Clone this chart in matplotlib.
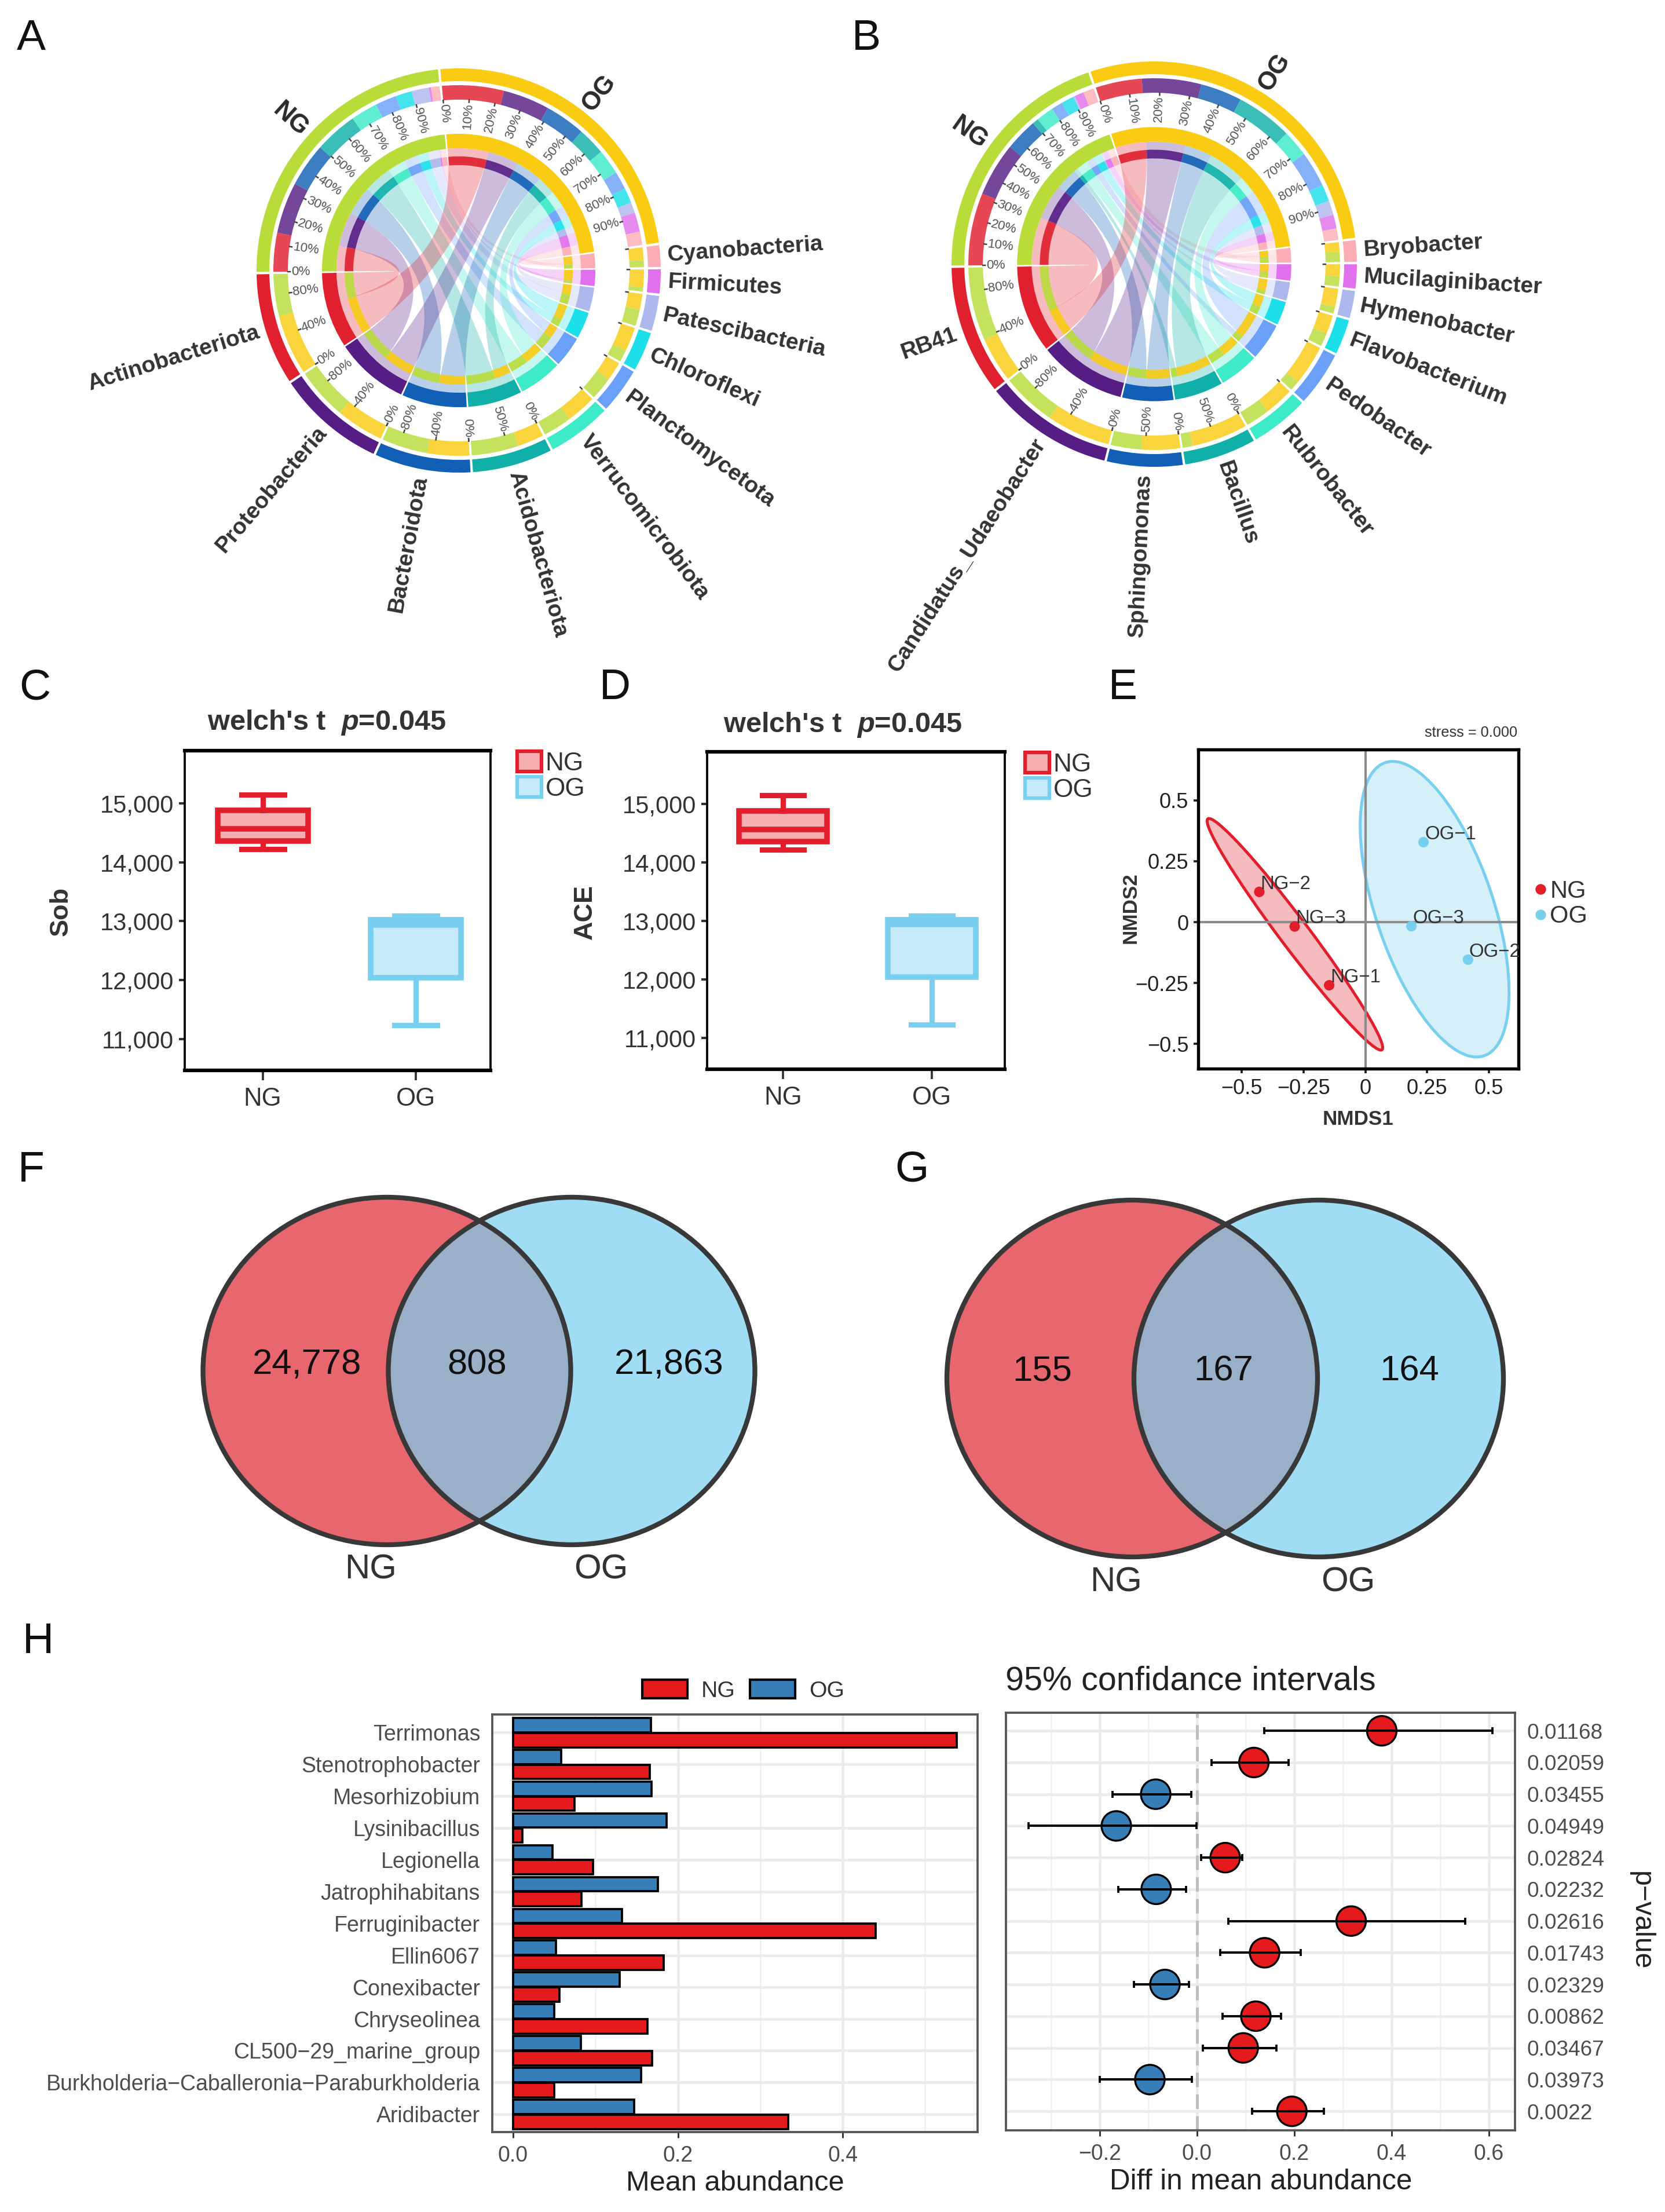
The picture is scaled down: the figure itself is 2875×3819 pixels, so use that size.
import numpy as np
import matplotlib
matplotlib.use("Agg")
import matplotlib.pyplot as plt
from matplotlib.patches import Wedge, Ellipse, Patch, PathPatch
from matplotlib.path import Path
from matplotlib.lines import Line2D

plt.rcParams['font.family'] = ['Liberation Sans', 'DejaVu Sans']
plt.rcParams['mathtext.fontset'] = 'custom'
plt.rcParams['mathtext.rm'] = 'Liberation Sans:bold'
plt.rcParams['mathtext.bfit'] = 'Liberation Sans:italic:bold'

W, H = 2875, 3819
RED, BLUE = '#E21E2C', '#78CFEE'
GREEN, YELLOW = '#B9DC3A', '#F9CB12'

# clockwise order, same for both chord panels
taxon_colors = ['#FBAEB5', '#E070EC', '#ADB8EC', '#1CDFEA', '#6AA0F8',
                '#3DEBC8', '#10B0A8', '#1260B5', '#561E85', '#E0202E']

# panel A, all spans in degrees of the circle
a_taxa = ['Cyanobacteria', 'Firmicutes', 'Patescibacteria', 'Chloroflexi', 'Planctomycetota',
          'Verrucomicrobiota', 'Acidobacteriota', 'Bacteroidota', 'Proteobacteria', 'Actinobacteriota']
a_spans = [6.2, 6.9, 10.1, 11.3, 13.1, 18.4, 23.0, 27.6, 31.2, 32.1]
a_og_frac = [0.65, 0.81, 0.49, 0.67, 0.45, 0.51, 0.36, 0.48, 0.48, 0.59]
a_ng = [2.7, 0.7, 5.4, 5.1, 6.7, 8.4, 13.5, 13.7, 16.1, 12.2]
a_og = [4.2, 6.1, 3.3, 4.7, 5.7, 7.9, 8.7, 12.7, 14.6, 19.4]
a_labels = [[], [], [], [], [], [], [0, 50], [0, 40, 80], [0, 40, 80], [0, 40, 80]]

# panel B
b_taxa = ['Bryobacter', 'Mucilaginibacter', 'Hymenobacter', 'Flavobacterium', 'Pedobacter',
          'Rubrobacter', 'Bacillus', 'Sphingomonas', 'Candidatus_Udaeobacter', 'RB41']
b_spans = [6.2, 6.9, 7.8, 10.0, 15.7, 16.7, 20.6, 21.7, 37.0, 37.0]
b_og_frac = [0.48, 0.55, 0.73, 0.58, 0.80, 0.55, 0.85, 0.56, 0.54, 0.38]
b_ng = [3.4, 2.9, 0.5, 4.0, 3.5, 5.5, 1.9, 10.2, 16.8, 22.7]
b_og = [3.6, 4.3, 4.5, 5.3, 11.1, 8.3, 17.7, 12.9, 18.6, 14.5]
b_labels = [[], [], [], [], [], [], [0, 50], [0, 50], [0, 40, 80], [0, 40, 80]]

# panels C, D
box_groups = ['NG', 'OG']
ng_box = dict(whislo=14220, q1=14360, med=14570, q3=14885, whishi=15150, fliers=[])
og_box = dict(whislo=11230, q1=12045, med=12940, q3=13025, whishi=13090, fliers=[])
box_ticks = [11000, 12000, 13000, 14000, 15000]

# panel E
nmds_names = ['NG\u22121', 'NG\u22122', 'NG\u22123', 'OG\u22121', 'OG\u22122', 'OG\u22123']
nmds1 = [-0.1465, -0.429, -0.286, 0.235, 0.415, 0.186]
nmds2 = [-0.259, 0.124, -0.018, 0.328, -0.154, -0.017]
ng_ell = dict(xy=(-0.285, -0.05), width=1.18, height=0.118, angle=-53.4)
og_ell = dict(xy=(0.28, 0.053), width=1.267, height=0.476, angle=108.3)

# panels F, G
venn_f = ['24,778', '808', '21,863']
venn_g = ['155', '167', '164']

# panel H
genera = ['Terrimonas', 'Stenotrophobacter', 'Mesorhizobium', 'Lysinibacillus', 'Legionella',
          'Jatrophihabitans', 'Ferruginibacter', 'Ellin6067', 'Conexibacter', 'Chryseolinea',
          'CL500\u221229_marine_group', 'Burkholderia\u2212Caballeronia\u2212Paraburkholderia', 'Aridibacter']
mean_ng = [0.538, 0.166, 0.0745, 0.011, 0.097, 0.083, 0.44, 0.183, 0.056, 0.163, 0.169, 0.05, 0.334]
mean_og = [0.167, 0.058, 0.168, 0.186, 0.048, 0.176, 0.132, 0.052, 0.129, 0.05, 0.082, 0.155, 0.147]
diff = [0.380, 0.117, -0.085, -0.166, 0.058, -0.084, 0.317, 0.139, -0.066, 0.121, 0.095, -0.097, 0.195]
ci_lo = [0.138, 0.030, -0.174, -0.347, 0.009, -0.1615, 0.064, 0.048, -0.130, 0.053, 0.012, -0.200, 0.113]
ci_hi = [0.607, 0.188, -0.0116, -0.001, 0.093, -0.022, 0.552, 0.213, -0.017, 0.173, 0.163, -0.011, 0.261]
pvals = ['0.01168', '0.02059', '0.03455', '0.04949', '0.02824', '0.02232', '0.02616',
         '0.01743', '0.02329', '0.00862', '0.03467', '0.03973', '0.0022']

fig = plt.figure(figsize=(W / 300, H / 300), dpi=300)


def px_axes(l, t, r, b):
    return fig.add_axes([l / W, 1 - b / H, (r - l) / W, (b - t) / H])


def px_text(x, y, s, **kw):
    kw.setdefault('ha', 'center')
    kw.setdefault('va', 'center')
    return fig.text(x / W, 1 - y / H, s, **kw)


def ring(ax, a1, a2, r_out, r_in, color, alpha=1.0, z=3):
    # a1 > a2, going clockwise
    ax.add_patch(Wedge((0, 0), r_out, a2, a1, width=r_out - r_in, fc=color, ec='none', lw=0,
                       alpha=alpha, zorder=z))


def arc(a1, a2, r):
    t = np.radians(np.linspace(a1, a2, 24))
    return np.c_[r * np.cos(t), r * np.sin(t)]


def ribbon(ax, g1, g2, t1, t2, r, color):
    p1 = arc(g1, g2, r)
    p2 = arc(t1, t2, r)
    verts = list(p1) + [(0, 0), p2[0]] + list(p2[1:]) + [(0, 0), p1[0]]
    codes = [Path.MOVETO] + [Path.LINETO] * (len(p1) - 1) + [Path.CURVE3, Path.CURVE3] + \
            [Path.LINETO] * (len(p2) - 1) + [Path.CURVE3, Path.CURVE3]
    ax.add_patch(PathPatch(Path(verts, codes), fc=color, ec='none', lw=0, alpha=0.3, zorder=2))


def radial_text(ax, ang, r, s, anchor='out', **kw):
    # reads along the radius, flipped on the left half
    a = (ang + 180) % 360 - 180
    left = abs(a) > 90
    rot = a - 180 if left else a
    if a < -90 and left:
        rot = a + 180
    if anchor == 'out':      # starts at r and runs away from the centre
        ha = 'right' if left else 'left'
    elif anchor == 'in':     # starts at r and runs towards the centre
        ha = 'left' if left else 'right'
    else:
        ha = 'center'
    t = np.radians(a)
    ax.text(r * np.cos(t), r * np.sin(t), s, rotation=rot, rotation_mode='anchor',
            ha=ha, va='center', **kw)


def chord_panel(cx, cy, R, taxa, spans, og_frac, ng, og, labels):
    k = R / 349.0
    r1o, r1i = 349 * k, 327 * k
    r2o, r2i = 320 * k, 295 * k
    r3o, r3i = 236 * k, 211 * k
    r4o, r4i = 197 * k, 182 * k
    ax = px_axes(cx - 750, cy - 750, cx + 750, cy + 750)
    ax.set_xlim(-750, 750)
    ax.set_ylim(-750, 750)
    ax.axis('off')
    ng_total, og_total = sum(ng), sum(og)
    total = ng_total + og_total + sum(spans)
    gap = (360 - total) / 12
    start = 180.4
    ng_start = start
    og_start = ng_start - ng_total - gap
    cur = og_start - og_total - gap

    for name, a0, tot, col in [('NG', ng_start, ng_total, GREEN), ('OG', og_start, og_total, YELLOW)]:
        ring(ax, a0, a0 - tot, r1o, r1i, col)
        ring(ax, a0, a0 - tot, r3o, r3i, col)
        radial_text(ax, a0 - tot / 2, 390 * k, name, anchor='c', fontsize=10.5, fontweight='bold', color='#2B2B2B')
        for p in range(0, 100, 10):
            a = a0 - tot * p / 100
            t = np.radians(a)
            ax.plot([(r2i - 4) * np.cos(t), r2i * np.cos(t)], [(r2i - 4) * np.sin(t), r2i * np.sin(t)],
                    color='#444444', lw=0.6, zorder=4)
            radial_text(ax, a, r2i - 6, '%d%%' % p, anchor='in', fontsize=5.4, color='#555555')

    # taxa are stacked from the far end of each group ring
    ng_pos = ng_start
    og_pos = og_start
    ng_edges, og_edges = {}, {}
    for i in range(len(taxa) - 1, -1, -1):
        ring(ax, ng_pos, ng_pos - ng[i], r2o, r2i, taxon_colors[i], 0.82)
        ring(ax, ng_pos, ng_pos - ng[i], r4o, r4i, taxon_colors[i], 0.9)
        ng_edges[i] = (ng_pos, ng_pos - ng[i])
        ng_pos -= ng[i]
        ring(ax, og_pos, og_pos - og[i], r2o, r2i, taxon_colors[i], 0.82)
        ring(ax, og_pos, og_pos - og[i], r4o, r4i, taxon_colors[i], 0.9)
        og_edges[i] = (og_pos, og_pos - og[i])
        og_pos -= og[i]

    for i, name in enumerate(taxa):
        col = taxon_colors[i]
        end = cur - spans[i]
        mid = cur - spans[i] * og_frac[i]
        ring(ax, cur, end, r1o, r1i, col)
        ring(ax, cur, end, r3o, r3i, col)
        ring(ax, cur, mid, r2o, r2i, YELLOW, 0.82)
        ring(ax, mid, end, r2o, r2i, GREEN, 0.82)
        ring(ax, cur, mid, r4o, r4i, YELLOW, 0.9)
        ring(ax, mid, end, r4o, r4i, GREEN, 0.9)
        ribbon(ax, og_edges[i][0], og_edges[i][1], cur, mid, r3i, col)
        ribbon(ax, ng_edges[i][0], ng_edges[i][1], mid, end, r3i, col)
        radial_text(ax, cur - spans[i] / 2, 361 * k, name, anchor='out', fontsize=9.4,
                    fontweight='bold', color='#333333')
        t = np.radians(cur)
        ax.plot([(r2i - 4) * np.cos(t), r2i * np.cos(t)], [(r2i - 4) * np.sin(t), r2i * np.sin(t)],
                color='#444444', lw=0.6, zorder=4)
        for p in labels[i]:
            a = cur - spans[i] * p / 100
            t = np.radians(a)
            ax.plot([(r2i - 4) * np.cos(t), r2i * np.cos(t)], [(r2i - 4) * np.sin(t), r2i * np.sin(t)],
                    color='#444444', lw=0.6, zorder=4)
            radial_text(ax, a, r2i - 6, '%d%%' % p, anchor='in', fontsize=5.4, color='#555555')
        cur = end - gap


def box_panel(l, t, r, b, ylab, ylab_x, title_x, title_y, leg_x):
    ax = px_axes(l, t, r, b)
    art = ax.bxp([ng_box, og_box], positions=[0, 1], widths=0.59, capwidths=0.28,
                 patch_artist=True, showfliers=False)
    for i, (c, f) in enumerate([(RED, '#F4AEB0'), (BLUE, '#C6EAF9')]):
        art['boxes'][i].set(facecolor=f, edgecolor=c, linewidth=2.3)
        art['medians'][i].set(color=c, linewidth=2.3)
        for w in art['whiskers'][2 * i:2 * i + 2] + art['caps'][2 * i:2 * i + 2]:
            w.set(color=c, linewidth=2.2)
    ax.set_xlim(-0.51, 1.49)
    ax.set_ylim(10467, 15895)
    ax.set_xticks([0, 1], box_groups)
    ax.set_yticks(box_ticks, ['{:,}'.format(v) for v in box_ticks])
    ax.tick_params(axis='y', labelsize=10, length=2.5, width=1.0, pad=2, colors='#333333')
    ax.tick_params(axis='x', labelsize=10.5, length=4, width=0.9, pad=3, colors='#333333')
    for s in ['top', 'bottom']:
        ax.spines[s].set_linewidth(1.5)
    for s in ['left', 'right']:
        ax.spines[s].set_linewidth(0.9)
    px_text(ylab_x, (t + b) / 2 + 2, ylab, rotation=90, fontsize=10.8, fontweight='bold', color='#333333')
    px_text(title_x, title_y, r"welch's t  $\bfit{p}$=0.045", fontsize=11.7, fontweight='bold', color='#333333')
    hs = [Patch(facecolor='#F4AEB0', edgecolor=RED, lw=1.5), Patch(facecolor='#C6EAF9', edgecolor=BLUE, lw=1.5)]
    ax.legend(hs, box_groups, loc='upper left', bbox_to_anchor=(leg_x / W, 1 - (t + 1) / H),
              bbox_transform=fig.transFigure, frameon=False, fontsize=10.6, borderpad=0, borderaxespad=0,
              handlelength=0.95, handleheight=0.84, handletextpad=0.15, labelspacing=0.05, labelcolor='#333333')


def venn_panel(left, right, cy, ry, values, text_x, text_y, name_x, name_y):
    ax = px_axes(left[0] - left[1] - 20, cy - ry - 20, right[0] + right[1] + 20, cy + ry + 20)
    ax.set_xlim(left[0] - left[1] - 20, right[0] + right[1] + 20)
    ax.set_ylim(cy + ry + 20, cy - ry - 20)
    ax.axis('off')
    e1 = Ellipse((left[0], cy), 2 * left[1], 2 * ry, fc='#E8666E', ec='none')
    e2 = Ellipse((right[0], cy), 2 * right[1], 2 * ry, fc='#A0DDF5', ec='none')
    ax.add_patch(e1)
    ax.add_patch(e2)
    mid = Ellipse((right[0], cy), 2 * right[1], 2 * ry, fc='#9AAFC8', ec='none')
    ax.add_patch(mid)
    mid.set_clip_path(e1)
    for x, rx in [left, right]:
        ax.add_patch(Ellipse((x, cy), 2 * rx, 2 * ry, fc='none', ec='#383838', lw=2.0))
    for x, v in zip(text_x, values):
        px_text(x, text_y, v, fontsize=14.8, color='#111111')
    for x, v in zip(name_x, box_groups):
        px_text(x, name_y, v, fontsize=14.4, color='#333333')


# panel letters
for s, x, y in [('A', 54, 66), ('B', 1496, 66), ('C', 60, 1188), ('D', 1062, 1188), ('E', 1939, 1188),
                ('F', 54, 2020), ('G', 1574, 2020), ('H', 66, 2834)]:
    px_text(x, y, s, fontsize=18, color='#111111')

chord_panel(792, 467, 349, a_taxa, a_spans, a_og_frac, a_ng, a_og, a_labels)
chord_panel(1993, 456, 350, b_taxa, b_spans, b_og_frac, b_ng, b_og, b_labels)

box_panel(319, 1296, 847, 1848, 'Sob', 105, 564, 1248, 893)
box_panel(1221, 1298, 1735, 1846, 'ACE', 1010, 1455, 1251, 1770)

# NMDS
ax = px_axes(2069, 1294, 2622, 1845)
ax.add_patch(Ellipse(**ng_ell, fc=RED, alpha=0.3, ec='none'))
ax.add_patch(Ellipse(**og_ell, fc=BLUE, alpha=0.3, ec='none'))
ax.add_patch(Ellipse(**ng_ell, fc='none', ec=RED, lw=1.2))
ax.add_patch(Ellipse(**og_ell, fc='none', ec=BLUE, lw=1.2))
ax.axhline(0, color='#8C8C8C', lw=1.0)
ax.axvline(0, color='#8C8C8C', lw=1.0)
cols = [RED if n.startswith('NG') else BLUE for n in nmds_names]
ax.scatter(nmds1, nmds2, s=19, c=cols, linewidths=0, zorder=4)
for n, x, y in zip(nmds_names, nmds1, nmds2):
    ax.annotate(n, (x, y), xytext=(0.5, 3.3), textcoords='offset points', fontsize=7.9,
                va='center', color='#333333', zorder=5)
ax.set_xlim(-0.676, 0.619)
ax.set_ylim(-0.601, 0.708)
ax.set_xticks([-0.5, -0.25, 0, 0.25, 0.5], ['\u22120.5', '\u22120.25', '0', '0.25', '0.5'])
ax.set_yticks([-0.5, -0.25, 0, 0.25, 0.5], ['\u22120.5', '\u22120.25', '0', '0.25', '0.5'])
ax.tick_params(labelsize=8.7, length=2, width=0.9, pad=2, colors='#222222')
for s in ax.spines.values():
    s.set_linewidth(1.3)
px_text(2345, 1932, 'NMDS1', fontsize=8.4, fontweight='bold', color='#333333')
px_text(1952, 1568, 'NMDS2', fontsize=8.4, fontweight='bold', color='#333333', rotation=90)
px_text(2620, 1265, 'stress = 0.000', ha='right', fontsize=6.1, color='#333333')
hs = [Line2D([], [], ls='none', marker='o', ms=4.4, mfc=c, mec='none') for c in (RED, BLUE)]
ax.legend(hs, box_groups, loc='upper left', bbox_to_anchor=(2645 / W, 1 - 1519 / H),
          bbox_transform=fig.transFigure, frameon=False, fontsize=10, borderpad=0, borderaxespad=0,
          handlelength=0.7, handletextpad=0.05, labelspacing=0.08, labelcolor='#333333')

venn_panel((668, 317.5), (987, 316.5), 2367, 300, venn_f, [530, 824, 1155], 2357, [640, 1038], 2710)
venn_panel((1955, 320), (2277, 319), 2380, 308, venn_g, [1800, 2113, 2434], 2368, [1927, 2328], 2732)

# mean abundance bars
rows = np.arange(len(genera))[::-1]
ax = px_axes(850, 2960, 1688, 3681)
ax.barh(rows + 0.235, mean_og, height=0.45, color='#377EB8', edgecolor='black', linewidth=0.9, label='OG', zorder=3)
ax.barh(rows - 0.235, mean_ng, height=0.45, color='#E41A1C', edgecolor='black', linewidth=0.9, label='NG', zorder=3)
ax.set_xlim(-0.0253, 0.5636)
ax.set_ylim(-0.56, 12.57)
ax.set_yticks(rows, genera)
ax.set_xticks([0, 0.2, 0.4], ['0.0', '0.2', '0.4'])
ax.set_xticks([0.1, 0.3, 0.5], minor=True)
ax.grid(True, which='major', color='#EBEBEB', lw=1.1, zorder=0)
ax.grid(True, which='minor', axis='x', color='#F0F0F0', lw=0.6, zorder=0)
ax.tick_params(axis='y', length=0, pad=5, labelsize=9, labelcolor='#4D4D4D')
ax.tick_params(axis='x', which='major', length=2.5, width=0.7, pad=3, labelsize=9, labelcolor='#4D4D4D', color='#333333')
ax.tick_params(axis='x', which='minor', length=0)
for s in ax.spines.values():
    s.set_linewidth(0.9)
    s.set_color('#555555')
ax.set_xlabel('')
px_text(1269, 3769, 'Mean abundance', fontsize=11.7, color='#222222')
hs = [Patch(facecolor='#E41A1C', edgecolor='black', lw=1.0), Patch(facecolor='#377EB8', edgecolor='black', lw=1.0)]
ax.legend(hs, box_groups, ncol=2, loc='center left', bbox_to_anchor=(1109 / W, 1 - 2919 / H),
          bbox_transform=fig.transFigure, frameon=False, fontsize=9.4, borderpad=0, borderaxespad=0,
          handlelength=2.0, handleheight=0.85, handletextpad=0.6, columnspacing=0.65, labelcolor='#333333')

# confidence intervals
ax = px_axes(1737, 2957, 2616, 3678)
diff_arr = np.array(diff)
ax.scatter(diff_arr, rows, s=150, c=['#E41A1C' if d > 0 else '#377EB8' for d in diff],
           edgecolors='black', linewidths=0.8, zorder=3)
ax.errorbar(diff_arr, rows, xerr=[diff_arr - np.array(ci_lo), np.array(ci_hi) - diff_arr], fmt='none',
            ecolor='black', elinewidth=0.95, capsize=1.4, capthick=0.9, zorder=4)
ax.axvline(0, color='#BEBEBE', lw=1.2, ls=(0, (5, 2.5)), zorder=2)
ax.set_xlim(-0.393, 0.654)
ax.set_ylim(-0.6, 12.57)
ax.set_xticks([-0.2, 0, 0.2, 0.4, 0.6], ['\u22120.2', '0.0', '0.2', '0.4', '0.6'])
ax.set_xticks([-0.3, -0.1, 0.1, 0.3, 0.5], minor=True)
ax.set_yticks(rows, pvals)
ax.yaxis.tick_right()
ax.grid(True, which='major', color='#EBEBEB', lw=1.1, zorder=0)
ax.grid(True, which='minor', axis='x', color='#F0F0F0', lw=0.6, zorder=0)
ax.tick_params(axis='y', length=0, pad=5, labelsize=8.9, labelcolor='#4D4D4D')
ax.tick_params(axis='x', which='major', length=2.5, width=0.7, pad=3, labelsize=9, labelcolor='#4D4D4D', color='#333333')
ax.tick_params(axis='x', which='minor', length=0)
for s in ax.spines.values():
    s.set_linewidth(0.9)
    s.set_color('#555555')
px_text(1736, 2903, '95% confidance intervals', ha='left', fontsize=13.8, color='#222222')
px_text(2177, 3767, 'Diff in mean abundance', fontsize=11.9, color='#222222')
px_text(2833, 3316, 'p\u2212value', rotation=-90, fontsize=11.6, color='#222222')

fig.savefig('out.png', dpi=300)
